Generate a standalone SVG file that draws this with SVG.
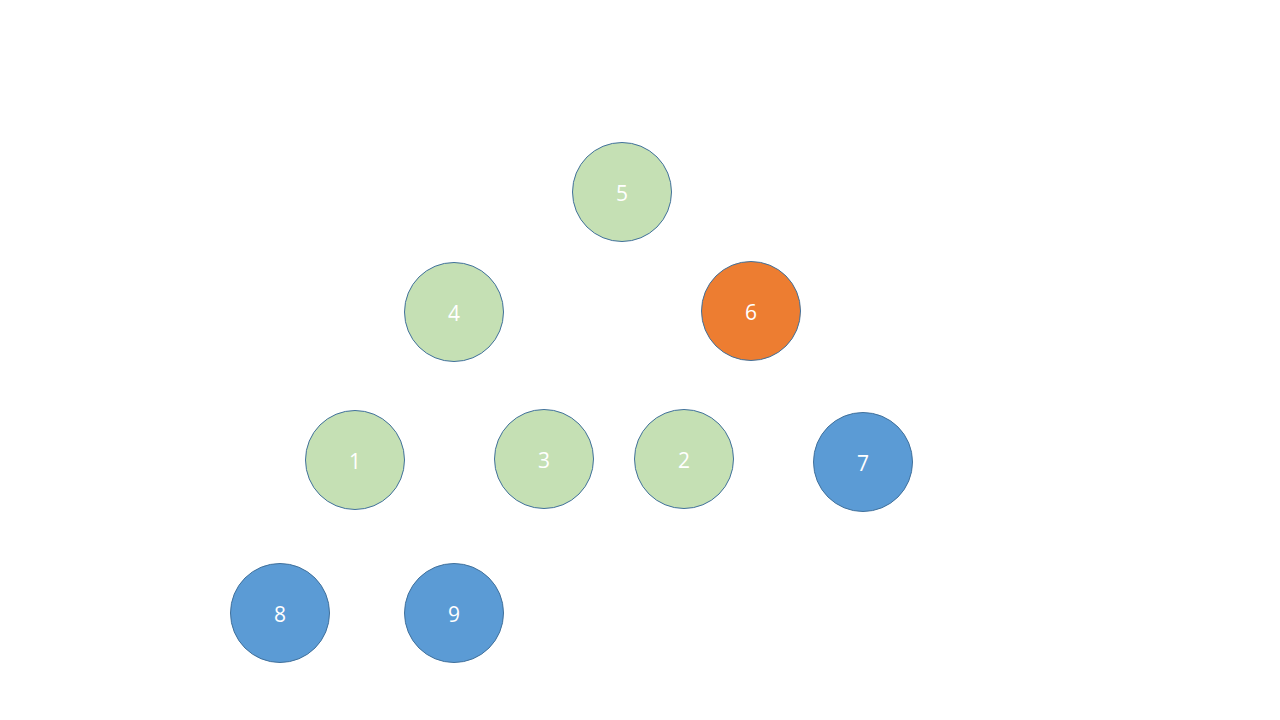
<svg xmlns="http://www.w3.org/2000/svg" width="1280" height="720" viewBox="0 0 1280 720">
<style>
.n{stroke:#41719C;stroke-width:1}
.g{fill:#C5E0B4}
.o{fill:#ED7D31}
.b{fill:#5B9BD5}
text{font-family:"Open Sans","Noto Sans","Liberation Sans",sans-serif;font-size:21px;fill:#FFFFFF;text-anchor:middle;dominant-baseline:central}
</style>
<rect width="1280" height="720" fill="#FFFFFF"/>
<g id="connectors"></g>
<g id="node5"><circle class="n g" cx="622" cy="192" r="49.5"/><text x="622" y="193">5</text></g>
<g id="node4"><circle class="n g" cx="454" cy="312" r="49.5"/><text x="454" y="313">4</text></g>
<g id="node6"><circle class="n o" cx="751" cy="311" r="49.5"/><text x="751" y="312">6</text></g>
<g id="node1"><circle class="n g" cx="355" cy="460" r="49.5"/><text x="355" y="461">1</text></g>
<g id="node3"><circle class="n g" cx="544" cy="459" r="49.5"/><text x="544" y="460">3</text></g>
<g id="node2"><circle class="n g" cx="684" cy="459" r="49.5"/><text x="684" y="460">2</text></g>
<g id="node7"><circle class="n b" cx="863" cy="462" r="49.5"/><text x="863" y="463">7</text></g>
<g id="node8"><circle class="n b" cx="280" cy="613" r="49.5"/><text x="280" y="614">8</text></g>
<g id="node9"><circle class="n b" cx="454" cy="613" r="49.5"/><text x="454" y="614">9</text></g>
</svg>
